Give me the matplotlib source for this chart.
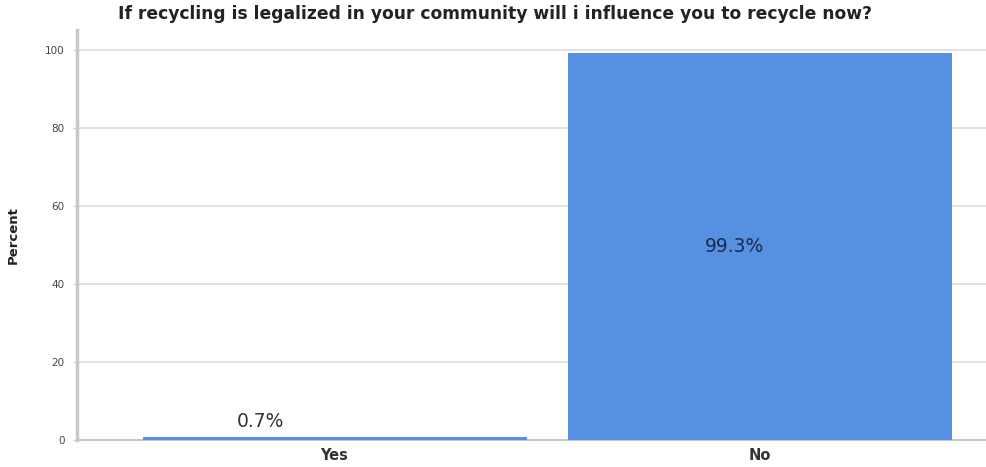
import matplotlib
matplotlib.use("Agg")
import matplotlib.pyplot as plt

categories = ["Yes", "No"]
percents = [0.7, 99.3]
labels = ["0.7%", "99.3%"]
yticks = [0, 20, 40, 60, 80, 100]
title = "If recycling is legalized in your community will i influence you to recycle now?"

fig = plt.figure(figsize=(9.87, 4.67), dpi=100)
ax = fig.add_axes([77/987, 1 - 440/467, 1 - 77/987, (440 - 30)/467])

x = list(range(len(categories)))
bars = ax.bar(x, percents, width=0.9, color="#5591E0", edgecolor="#4a86d6", linewidth=0.6, zorder=3)
ax.set_xlim(-0.606, 1.535)
ax.set_ylim(0, 105.1)
ax.set_xticks(x)
ax.set_xticklabels(categories, fontsize=10.5, fontweight="bold", color="#333333")
ax.set_yticks(yticks)
ax.set_yticklabels([str(t) for t in yticks], fontsize=7.5, color="#444444")
ax.tick_params(axis="y", length=3, color="#cccccc", pad=6)
ax.tick_params(axis="x", length=0, pad=6)
ax.yaxis.grid(True, color="#dddddd", linewidth=1.2, zorder=0)
for s in ["top", "right"]:
    ax.spines[s].set_visible(False)
ax.spines["left"].set_color("#c8c8c8")
ax.spines["left"].set_linewidth(2.5)
ax.spines["bottom"].set_color("#c8c8c8")
ax.spines["bottom"].set_linewidth(1.5)
ax.set_ylabel("Percent", fontsize=9.5, fontweight="bold", color="#222222", labelpad=18)

# labels (positioned as in the reference, slightly left of bar centres)
ax.text(x[0] - 0.175, percents[0] + 1.5, labels[0], ha="center", va="bottom", fontsize=13.5, color="#333333")
ax.text(x[1] - 0.06, percents[1] / 2, labels[1], ha="center", va="center", fontsize=13.5, color="#1a2a50")

fig.text(495/987, 1 - 14/467, title, ha="center", va="center", fontsize=12.3, fontweight="bold", color="#222222")

fig.savefig("out.png", dpi=100)
